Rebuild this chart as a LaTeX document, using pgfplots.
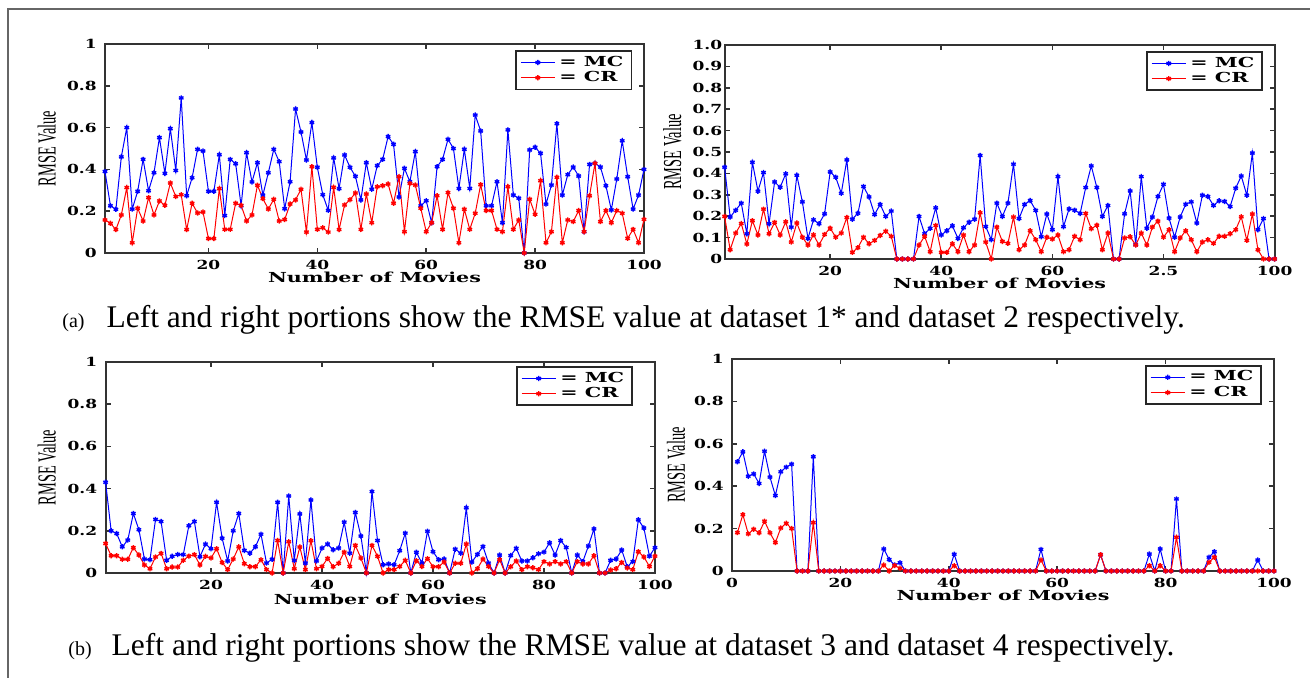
\documentclass[border=0pt]{standalone}
\usepackage{fontspec}
\setmainfont{Liberation Serif}
\newfontfamily\djs{DejaVu Serif}
\usepackage{graphicx}
\usepackage{pgfplots}
\usepackage{pgfplotstable}
\pgfplotsset{compat=1.18}

\newcommand{\tk}[1]{\scalebox{1.36}[1]{\djs\bfseries\fontsize{6.25}{7}\selectfont #1}}
\newcommand{\lb}[1]{\scalebox{1.5}[1]{\djs\bfseries\fontsize{6.9}{8}\selectfont #1}}
\newcommand{\yl}{\scalebox{1}[1.8]{\fontsize{7.2}{8}\selectfont RMSE Value}}

\pgfplotstableread{
x mc cr
1 0.390 0.158
2 0.226 0.142
3 0.209 0.112
4 0.460 0.182
5 0.600 0.313
6 0.210 0.049
7 0.295 0.214
8 0.448 0.153
9 0.298 0.265
10 0.384 0.182
11 0.552 0.249
12 0.381 0.228
13 0.595 0.335
14 0.395 0.270
15 0.742 0.279
16 0.274 0.112
17 0.360 0.238
18 0.496 0.191
19 0.488 0.196
20 0.295 0.069
21 0.295 0.069
22 0.470 0.308
23 0.179 0.113
24 0.448 0.113
25 0.427 0.238
26 0.226 0.228
27 0.480 0.153
28 0.340 0.182
29 0.432 0.324
30 0.277 0.260
31 0.384 0.210
32 0.496 0.257
33 0.437 0.153
34 0.212 0.160
35 0.341 0.234
36 0.689 0.254
37 0.579 0.305
38 0.445 0.100
39 0.624 0.413
40 0.410 0.113
41 0.279 0.121
42 0.204 0.100
43 0.455 0.314
44 0.308 0.112
45 0.469 0.230
46 0.410 0.255
47 0.367 0.287
48 0.254 0.113
49 0.432 0.282
50 0.305 0.145
51 0.418 0.317
52 0.448 0.322
53 0.557 0.330
54 0.520 0.238
55 0.268 0.365
56 0.405 0.102
57 0.341 0.333
58 0.485 0.325
59 0.226 0.214
60 0.250 0.102
61 0.145 0.145
62 0.413 0.274
63 0.448 0.113
64 0.544 0.289
65 0.500 0.214
66 0.309 0.049
67 0.496 0.209
68 0.309 0.113
69 0.660 0.190
70 0.584 0.327
71 0.226 0.203
72 0.226 0.203
73 0.341 0.113
74 0.145 0.102
75 0.589 0.317
76 0.277 0.113
77 0.262 0.158
78 0.000 0.000
79 0.493 0.257
80 0.506 0.185
81 0.477 0.346
82 0.234 0.049
83 0.325 0.102
84 0.619 0.362
85 0.277 0.049
86 0.375 0.158
87 0.411 0.150
88 0.368 0.203
89 0.102 0.102
90 0.424 0.274
91 0.429 0.429
92 0.411 0.150
93 0.322 0.203
94 0.206 0.145
95 0.354 0.203
96 0.537 0.190
97 0.365 0.070
98 0.210 0.113
99 0.277 0.049
100 0.400 0.161
}\tA

\pgfplotstableread{
x mc cr
1 0.429 0.199
2 0.196 0.043
3 0.228 0.121
4 0.261 0.166
5 0.118 0.070
6 0.452 0.179
7 0.317 0.112
8 0.404 0.233
9 0.165 0.118
10 0.360 0.171
11 0.335 0.112
12 0.398 0.174
13 0.149 0.079
14 0.391 0.168
15 0.267 0.102
16 0.096 0.065
17 0.183 0.113
18 0.165 0.065
19 0.211 0.115
20 0.407 0.144
21 0.382 0.102
22 0.307 0.121
23 0.463 0.194
24 0.186 0.031
25 0.214 0.053
26 0.339 0.102
27 0.290 0.071
28 0.208 0.087
29 0.255 0.110
30 0.199 0.130
31 0.224 0.106
32 0 0
33 0 0
34 0 0
35 0 0
36 0.199 0.065
37 0.118 0.106
38 0.143 0.034
39 0.239 0.157
40 0.112 0.031
41 0.132 0.031
42 0.155 0.071
43 0.096 0.034
44 0.146 0.112
45 0.172 0.034
46 0.186 0.065
47 0.484 0.216
48 0.152 0.079
49 0.090 0.000
50 0.261 0.149
51 0.199 0.082
52 0.261 0.073
53 0.443 0.196
54 0.189 0.043
55 0.255 0.065
56 0.273 0.132
57 0.227 0.090
58 0.104 0.034
59 0.210 0.102
60 0.137 0.093
61 0.385 0.112
62 0.151 0.034
63 0.234 0.043
64 0.228 0.106
65 0.213 0.090
66 0.334 0.213
67 0.435 0.141
68 0.334 0.158
69 0.199 0.043
70 0.250 0.121
71 0 0
72 0 0
73 0.211 0.098
74 0.318 0.104
75 0.067 0.065
76 0.385 0.121
77 0.144 0.065
78 0.196 0.149
79 0.292 0.177
80 0.349 0.102
81 0.191 0.137
82 0.102 0.034
83 0.196 0.098
84 0.256 0.132
85 0.267 0.090
86 0.168 0.034
87 0.298 0.079
88 0.292 0.090
89 0.250 0.073
90 0.272 0.106
91 0.269 0.106
92 0.245 0.118
93 0.331 0.137
94 0.388 0.197
95 0.298 0.087
96 0.495 0.210
97 0.137 0.043
98 0.189 0.000
99 0 0
100 0 0
}\tB

\pgfplotstableread{
x mc cr
1 0.430 0.140
2 0.200 0.082
3 0.187 0.082
4 0.124 0.065
5 0.156 0.065
6 0.282 0.120
7 0.205 0.085
8 0.066 0.038
9 0.063 0.020
10 0.254 0.076
11 0.244 0.093
12 0.060 0.020
13 0.079 0.028
14 0.088 0.028
15 0.087 0.060
16 0.224 0.080
17 0.244 0.087
18 0.077 0.038
19 0.137 0.079
20 0.115 0.071
21 0.335 0.115
22 0.165 0.050
23 0.057 0.016
24 0.200 0.066
25 0.282 0.124
26 0.107 0.044
27 0.094 0.030
28 0.124 0.030
29 0.184 0.063
30 0.047 0.016
31 0.065 0.000
32 0.335 0.154
33 0.000 0.000
34 0.365 0.148
35 0.060 0.020
36 0.280 0.123
37 0.047 0.016
38 0.346 0.153
39 0.057 0.020
40 0.118 0.031
41 0.137 0.069
42 0.110 0.030
43 0.118 0.046
44 0.241 0.099
45 0.094 0.031
46 0.287 0.131
47 0.175 0.071
48 0.000 0.000
49 0.386 0.131
50 0.154 0.079
51 0.039 0.000
52 0.043 0.016
53 0.039 0.016
54 0.106 0.031
55 0.189 0.060
56 0.000 0.000
57 0.098 0.058
58 0.047 0.031
59 0.198 0.068
60 0.101 0.030
61 0.063 0.030
62 0.066 0.052
63 0.000 0.000
64 0.113 0.046
65 0.094 0.046
66 0.309 0.137
67 0.052 0.000
68 0.088 0.020
69 0.126 0.066
70 0.047 0.031
71 0.000 0.000
72 0.085 0.063
73 0.000 0.000
74 0.083 0.030
75 0.117 0.057
76 0.057 0.016
77 0.057 0.030
78 0.072 0.025
79 0.091 0.016
80 0.099 0.054
81 0.143 0.043
82 0.085 0.054
83 0.154 0.043
84 0.121 0.054
85 0.000 0.000
86 0.085 0.054
87 0.054 0.043
88 0.128 0.043
89 0.209 0.082
90 0.000 0.000
91 0.000 0.000
92 0.060 0.014
93 0.066 0.020
94 0.109 0.050
95 0.030 0.024
96 0.054 0.016
97 0.252 0.101
98 0.213 0.076
99 0.080 0.031
100 0.120 0.080
}\tC

\pgfplotstableread{
x mc cr
1 0.515 0.181
2 0.562 0.266
3 0.447 0.175
4 0.458 0.197
5 0.413 0.180
6 0.565 0.235
7 0.443 0.180
8 0.356 0.134
9 0.468 0.203
10 0.490 0.225
11 0.504 0.200
12 0 0
13 0 0
14 0 0
15 0.539 0.228
16 0 0
17 0 0
18 0 0
19 0 0
20 0 0
21 0 0
22 0 0
23 0 0
24 0 0
25 0 0
26 0 0
27 0 0
28 0.104 0.028
29 0.054 0
30 0.028 0.026
31 0.039 0.013
32 0 0
33 0 0
34 0 0
35 0 0
36 0 0
37 0 0
38 0 0
39 0 0
40 0 0
41 0.079 0.025
42 0 0
43 0 0
44 0 0
45 0 0
46 0 0
47 0 0
48 0 0
49 0 0
50 0 0
51 0 0
52 0 0
53 0 0
54 0 0
55 0 0
56 0 0
57 0.102 0.052
58 0 0
59 0 0
60 0 0
61 0 0
62 0 0
63 0 0
64 0 0
65 0 0
66 0 0
67 0 0
68 0.077 0.077
69 0 0
70 0 0
71 0 0
72 0 0
73 0 0
74 0 0
75 0 0
76 0 0
77 0.080 0.025
78 0 0
79 0.104 0.025
80 0 0
81 0 0
82 0.340 0.159
83 0 0
84 0 0
85 0 0
86 0 0
87 0 0
88 0.065 0.041
89 0.091 0.065
90 0 0
91 0 0
92 0 0
93 0 0
94 0 0
95 0 0
96 0 0
97 0.052 0
98 0 0
99 0 0
100 0 0
}\tD

\pgfplotsset{
  myax/.style={
    scale only axis, clip=false,
    axis line style={line width=1pt, black!80},
    tick style={line width=0.8pt, black!80},
    tick align=inside, major tick length=2.5pt,
    xmin=1, xmax=100, ymin=0, ymax=1,
    yticklabel style={inner sep=0pt, xshift=-4pt},
    xticklabel style={inner sep=0pt, yshift=-3.5pt},
    xlabel={\lb{Number of Movies}},
    xlabel style={at={(axis description cs:0.5,0)}, anchor=north, yshift=-9.5pt, inner sep=0pt},
    ylabel={\yl},
    legend style={draw=black!85, line width=0.8pt, fill=white, inner xsep=2pt, inner ysep=0.5pt, row sep=-3pt},
    legend cell align=left,
  },
  mc/.style={blue, line width=0.5pt, mark=asterisk, mark size=1.3pt, mark options={line width=0.7pt}},
  cr/.style={red, line width=0.5pt, mark=asterisk, mark size=1.3pt, mark options={line width=0.7pt}},
}

\begin{document}
\begin{tikzpicture}
\useasboundingbox (0,0) rectangle (655pt,339pt);
\draw[black!60, line width=0.6pt] (4pt,0pt) -- (4pt,334.5pt) -- (655pt,334.5pt);

% (a) left
\begin{axis}[myax, at={(52.5pt,212.5pt)}, anchor=south west, width=269.5pt, height=104.5pt,
  ytick={0,0.2,0.4,0.6,0.8,1}, yticklabels={\tk{0},\tk{0.2},\tk{0.4},\tk{0.6},\tk{0.8},\tk{1}},
  xtick={20,40,60,80,100}, xticklabels={\tk{20},\tk{40},\tk{60},\tk{80},\tk{100}},
  ylabel style={at={(axis description cs:-0.108,0.5)}, anchor=center},
  legend style={at={(0.978,0.971)}, anchor=north east}]
\addplot[mc] table[x=x,y=mc]{\tA};
\addplot[cr] table[x=x,y=cr]{\tA};
\legend{\lb{= MC},\lb{= CR}}
\end{axis}

% (a) right
\begin{axis}[myax, at={(362.3pt,209.5pt)}, anchor=south west, width=275pt, height=107pt,
  ytick={0,0.1,0.2,0.3,0.4,0.5,0.6,0.7,0.8,0.9,1},
  yticklabels={\tk{0},\tk{0.1},\tk{0.2},\tk{0.3},\tk{0.4},\tk{0.5},\tk{0.6},\tk{0.7},\tk{0.8},\tk{0.9},\tk{1.0}},
  yticklabel style={xshift=3pt},
  xtick={20,40,60,80,100}, xticklabels={\tk{20},\tk{40},\tk{60},\tk{2.5},\tk{100}},
  ylabel style={at={(axis description cs:-0.095,0.5)}, anchor=center},
  legend style={at={(0.979,0.972)}, anchor=north east}]
\addplot[mc] table[x=x,y=mc]{\tB};
\addplot[cr] table[x=x,y=cr]{\tB};
\legend{\lb{= MC},\lb{= CR}}
\end{axis}

% (b) left
\begin{axis}[myax, at={(52.8pt,52.5pt)}, anchor=south west, width=274.7pt, height=105.5pt,
  ytick={0,0.2,0.4,0.6,0.8,1}, yticklabels={\tk{0},\tk{0.2},\tk{0.4},\tk{0.6},\tk{0.8},\tk{1}},
  xtick={20,40,60,80,100}, xticklabels={\tk{20},\tk{40},\tk{60},\tk{80},\tk{100}},
  xlabel style={yshift=-1pt},
  ylabel style={at={(axis description cs:-0.107,0.5)}, anchor=center},
  legend style={at={(0.96,0.981)}, anchor=north east}]
\addplot[mc] table[x=x,y=mc]{\tC};
\addplot[cr] table[x=x,y=cr]{\tC};
\legend{\lb{= MC},\lb{= CR}}
\end{axis}

% (b) right
\begin{axis}[myax, at={(366pt,53.5pt)}, anchor=south west, width=271pt, height=106pt, xmin=0,
  ytick={0,0.2,0.4,0.6,0.8,1}, yticklabels={\tk{0},\tk{0.2},\tk{0.4},\tk{0.6},\tk{0.8},\tk{1}},
  xtick={0,20,40,60,80,100}, xticklabels={\tk{0},\tk{20},\tk{40},\tk{60},\tk{80},\tk{100}},
  ylabel style={at={(axis description cs:-0.103,0.5)}, anchor=center},
  legend style={at={(0.978,0.972)}, anchor=north east}]
\addplot[mc] table[x=x,y=mc]{\tD};
\addplot[cr] table[x=x,y=cr]{\tD};
\legend{\lb{= MC},\lb{= CR}}
\end{axis}

\node[anchor=base west, inner sep=0pt] at (31pt,175pt)
  {{\fontsize{10}{12}\selectfont (a)}\hspace{11pt}{\fontsize{15.75}{18}\selectfont Left and right portions show the RMSE value at dataset 1* and dataset 2 respectively.}};
\node[anchor=base west, inner sep=0pt] at (34pt,11pt)
  {{\fontsize{10}{12}\selectfont (b)}\hspace{10pt}{\fontsize{15.75}{18}\selectfont Left and right portions show the RMSE value at dataset 3 and dataset 4 respectively.}};
\end{tikzpicture}
\end{document}
